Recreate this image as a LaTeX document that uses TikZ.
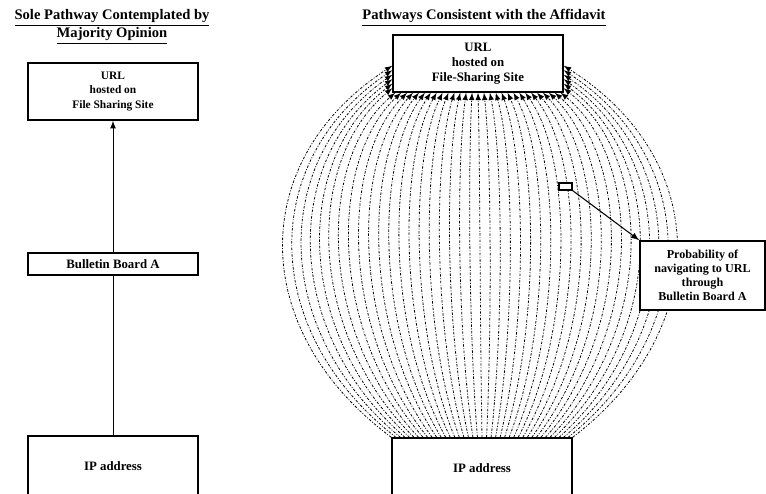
\documentclass[tikz,border=0pt]{standalone}
\usepackage{fontspec}
\setmainfont{Liberation Serif}
\usepackage{tikz}
\usetikzlibrary{shapes,arrows,positioning,calc,backgrounds}

\begin{document}
\begin{tikzpicture}[x=0.02cm, y=-0.02cm,
    box/.style={rectangle, draw=black, line width=0.9pt, fill=white, align=center, inner sep=0pt, font=\fontsize{7.3}{8.5}\selectfont\bfseries},
    heading/.style={align=center, inner sep=0pt, font=\fontsize{8.3}{10.2}\selectfont\bfseries},
    route/.style={line width=0.45pt, dash pattern=on 1.4pt off 0.9pt on 0.5pt off 0.9pt, -latex}]
    \clip (0,0) rectangle (766,493);
    % left: single pathway
    \node (titleL) [heading] at (112,27) {\underline{Sole Pathway Contemplated by}\\\underline{Majority Opinion}};
    \node (urlL) [box, minimum width=3.4cm, minimum height=1.14cm, font=\fontsize{6.5}{8.5}\selectfont\bfseries] at (113,91.5) {URL\\hosted on\\File Sharing Site};
    \node (bbA) [box, minimum width=3.4cm, minimum height=0.44cm] at (113,264) {Bulletin Board A};
    \node (ipL) [box, minimum width=3.4cm, minimum height=1.2cm] at (113,466) {IP address};
    \draw [-latex, line width=0.5pt] (bbA) -- (urlL);
    \draw [line width=0.5pt] (ipL) -- (bbA);
    % right: all pathways
    \node (titleR) [heading] at (484,18) {\underline{Pathways Consistent with the Affidavit}};
    \node (urlR) [box, minimum width=3.4cm, minimum height=1.14cm] at (478,63.5) {URL\\hosted on\\File-Sharing Site};
    \node (ipR) [box, minimum width=3.6cm, minimum height=1.2cm] at (482,468) {IP address};
    \node (prob) [box, minimum width=2.5cm, minimum height=1.38cm, font=\fontsize{6.9}{8}\selectfont\bfseries] at (702.5,275.5) {Probability of\\navigating to URL\\through\\Bulletin Board A};
    \node (mark) [rectangle, draw=black, line width=0.6pt, fill=white, minimum width=0.26cm, minimum height=0.14cm, inner sep=0pt] at (565.5,186.5) {};
    \draw [-latex, line width=0.6pt] (mark.south east) -- (prob.north west);
    \begin{scope}[on background layer]
    \foreach \i in {-20,...,20} {
        \pgfmathsetmacro{\s}{(\i+20)/40}
        \pgfmathsetmacro{\cx}{480+11.65*\i}
        \pgfmathsetmacro{\f}{(\i+14.5)/29}
        \pgfmathsetmacro{\h}{4.5*(abs(\i)-14)}
        \coordinate (fanS) at ($(ipR.north west)!\s!(ipR.north east)$);
        \ifnum\i<-14
            \coordinate (fanE) at ($(urlR.south west)+(0,-\h)$);
        \else\ifnum\i>14
            \coordinate (fanE) at ($(urlR.south east)+(0,-\h)$);
        \else
            \coordinate (fanE) at ($(urlR.south west)!\f!(urlR.south east)$);
        \fi\fi
        \draw [route] (fanS) .. controls (\cx,330) and (\cx,160) .. (fanE);
    }
    \end{scope}
\end{tikzpicture}
\end{document}
